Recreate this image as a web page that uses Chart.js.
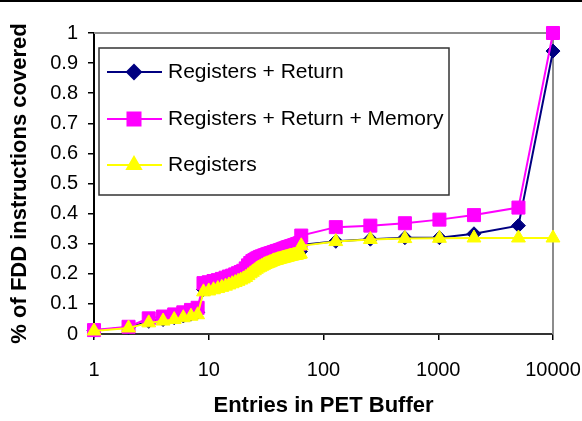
<!DOCTYPE html>
<html>
<head>
<meta charset="utf-8">
<script src="https://cdn.jsdelivr.net/npm/chart.js@4.4.1/dist/chart.umd.min.js"></script>
<style>
  html, body { margin: 0; padding: 0; background: #fff; }
  #wrap { width: 582px; height: 421px; }
</style>
</head>
<body>
<div id="wrap"><canvas id="pet-chart" width="582" height="421"></canvas></div>
<script>
// PET buffer coverage chart

const entries = [
    1, 2, 3, 4, 5, 6, 7, 8, 9, 10, 11, 12, 13, 14, 15, 16,
    17, 18, 19, 20, 21, 22, 23, 24, 25, 26, 27, 28, 29, 30, 31, 32,
    33, 34, 35, 36, 37, 38, 39, 40, 41, 42, 43, 44, 45, 46, 47, 48,
    49, 50, 51, 52, 53, 54, 55, 56, 57, 58, 59, 60, 61, 62, 63, 64,
    128, 256, 512, 1024, 2048, 5000, 10000
];

const regsReturn = [
    0.012, 0.022, 0.042, 0.048, 0.054, 0.060, 0.066, 0.072, 0.148, 0.151, 0.155, 0.159, 0.163, 0.167, 0.171, 0.175,
    0.179, 0.183, 0.187, 0.191, 0.196, 0.202, 0.208, 0.213, 0.218, 0.223, 0.227, 0.230, 0.233, 0.236, 0.239, 0.241,
    0.243, 0.245, 0.247, 0.249, 0.251, 0.252, 0.253, 0.255, 0.256, 0.257, 0.258, 0.259, 0.260, 0.261, 0.262, 0.263,
    0.264, 0.265, 0.266, 0.267, 0.267, 0.268, 0.269, 0.269, 0.270, 0.270, 0.271, 0.272, 0.272, 0.273, 0.274, 0.296,
    0.308, 0.315, 0.320, 0.320, 0.333, 0.360, 0.940
];

const regsReturnMem = [
    0.013, 0.024, 0.052, 0.058, 0.065, 0.072, 0.080, 0.087, 0.169, 0.172, 0.176, 0.179, 0.183, 0.187, 0.191, 0.194,
    0.198, 0.202, 0.206, 0.210, 0.218, 0.228, 0.236, 0.242, 0.246, 0.250, 0.253, 0.256, 0.258, 0.260, 0.262, 0.264,
    0.266, 0.267, 0.269, 0.270, 0.272, 0.273, 0.275, 0.276, 0.277, 0.279, 0.280, 0.281, 0.283, 0.284, 0.285, 0.287,
    0.288, 0.289, 0.290, 0.291, 0.292, 0.293, 0.294, 0.295, 0.296, 0.297, 0.298, 0.299, 0.300, 0.301, 0.302, 0.327,
    0.355, 0.360, 0.368, 0.380, 0.395, 0.420, 1.000
];

const regsOnly = [
    0.010, 0.020, 0.037, 0.043, 0.048, 0.054, 0.059, 0.064, 0.140, 0.143, 0.147, 0.151, 0.155, 0.159, 0.163, 0.167,
    0.171, 0.175, 0.179, 0.183, 0.188, 0.194, 0.200, 0.205, 0.210, 0.215, 0.219, 0.222, 0.225, 0.228, 0.231, 0.233,
    0.235, 0.237, 0.239, 0.241, 0.243, 0.244, 0.245, 0.247, 0.248, 0.249, 0.250, 0.251, 0.252, 0.253, 0.254, 0.255,
    0.256, 0.257, 0.258, 0.259, 0.259, 0.260, 0.261, 0.261, 0.262, 0.262, 0.263, 0.264, 0.264, 0.265, 0.266, 0.293,
    0.307, 0.314, 0.317, 0.318, 0.319, 0.319, 0.319
];

const seriesNames = ['Registers + Return', 'Registers + Return + Memory', 'Registers'];
const xTickValues = [1, 10, 100, 1000, 10000];
const yTickLabels = ['0', '0.1', '0.2', '0.3', '0.4', '0.5', '0.6', '0.7', '0.8', '0.9', '1'];

const FONT = "'Liberation Sans', Arial, sans-serif";
Chart.defaults.font.family = FONT;
Chart.defaults.color = '#000';

function toPoints(values) {
    return entries.map((x, i) => ({ x: x, y: values[i] }));
}

const seriesStyles = [
    { color: '#000080', pointStyle: 'rectRot', radius: 7, order: 2 },
    { color: '#ff00ff', pointStyle: 'rect', radius: 9.2, order: 1 },
    { color: '#ffff00', pointStyle: 'triangle', radius: 8, order: 0 }
];

// grey frame on top/right of the plot plus the rule at the top of the page
const framePlugin = {
    id: 'framePlugin',
    beforeDatasetsDraw(chart) {
        const ctx = chart.ctx;
        const a = chart.chartArea;
        ctx.save();
        ctx.strokeStyle = '#000';
        ctx.lineWidth = 2;
        ctx.beginPath();
        ctx.moveTo(0, 1);
        ctx.lineTo(chart.width, 1);
        ctx.stroke();

        ctx.strokeStyle = '#8c8c8c';
        ctx.lineWidth = 2;
        ctx.beginPath();
        ctx.moveTo(a.left, a.top);
        ctx.lineTo(a.right, a.top);
        ctx.lineTo(a.right, a.bottom);
        ctx.stroke();
        ctx.restore();
    }
};

// legend box drawn inside the plot, Excel style
const boxLegend = {
    id: 'boxLegend',
    afterDraw(chart) {
        const ctx = chart.ctx;
        const a = chart.chartArea;
        const left = a.left + 5;
        const top = a.top + 15;
        const width = 350;
        const height = 147;
        ctx.save();
        ctx.fillStyle = '#fff';
        ctx.fillRect(left, top, width, height);
        ctx.strokeStyle = '#333';
        ctx.lineWidth = 1.5;
        ctx.strokeRect(left, top, width, height);

        const rowY = [top + 24, top + 71, top + 117];
        ctx.font = '21px ' + FONT;
        ctx.textBaseline = 'middle';
        seriesNames.forEach((name, i) => {
            const st = seriesStyles[i];
            const y = rowY[i];
            ctx.strokeStyle = st.color;
            ctx.fillStyle = st.color;
            ctx.lineWidth = 2;
            ctx.beginPath();
            ctx.moveTo(left + 8, y);
            ctx.lineTo(left + 63, y);
            ctx.stroke();
            Chart.helpers.drawPoint(ctx, {
                pointStyle: st.pointStyle,
                radius: st.radius,
                rotation: 0,
                borderWidth: 1
            }, left + 35, y);
            ctx.fillStyle = '#000';
            ctx.fillText(name, left + 69, y);
        });
        ctx.restore();
    }
};

const datasets = [regsReturn, regsReturnMem, regsOnly].map((values, i) => {
    const st = seriesStyles[i];
    return {
        label: seriesNames[i],
        data: toPoints(values),
        borderColor: st.color,
        backgroundColor: st.color,
        pointBackgroundColor: st.color,
        pointBorderColor: st.color,
        pointStyle: st.pointStyle,
        pointRadius: st.radius,
        pointBorderWidth: 1,
        borderWidth: 2,
        tension: 0,
        order: st.order,
        clip: false
    };
});

new Chart(document.getElementById('pet-chart'), {
    type: 'line',
    data: { datasets: datasets },
    options: {
        responsive: false,
        animation: false,
        layout: {
            padding: { top: 33, right: 29, left: 0, bottom: 0 }
        },
        plugins: {
            legend: { display: false },
            tooltip: { enabled: false }
        },
        scales: {
            x: {
                type: 'logarithmic',
                min: 1,
                max: 10000,
                afterBuildTicks: scale => {
                    scale.ticks = xTickValues.map(v => ({ value: v }));
                },
                afterFit: scale => {
                    scale.height = 87;
                    scale.paddingLeft = 0;
                    scale.paddingRight = 0;
                },
                border: { color: '#333', width: 2 },
                grid: { drawOnChartArea: false, tickLength: 6, color: '#000', lineWidth: 1.5 },
                ticks: {
                    autoSkip: false,
                    maxRotation: 0,
                    padding: 18,
                    font: { size: 20 },
                    callback: value => String(value)
                },
                title: {
                    display: true,
                    text: 'Entries in PET Buffer',
                    font: { size: 22, weight: 'bold' },
                    padding: { top: 0, bottom: 2 }
                }
            },
            y: {
                min: 0,
                max: 1,
                ticks: {
                    stepSize: 0.1,
                    padding: 10,
                    font: { size: 20 },
                    callback: (value, index) => yTickLabels[index]
                },
                afterFit: scale => {
                    scale.width = 94;
                    scale.paddingTop = 0;
                    scale.paddingBottom = 0;
                },
                border: { color: '#000', width: 2 },
                grid: { drawOnChartArea: false, tickLength: 6, color: '#000', lineWidth: 1.5 },
                title: {
                    display: true,
                    text: '% of FDD instructions covered',
                    font: { size: 22, weight: 'bold' },
                    padding: { top: 7, bottom: 0 }
                }
            }
        }
    },
    plugins: [framePlugin, boxLegend]
});
</script>
</body>
</html>
